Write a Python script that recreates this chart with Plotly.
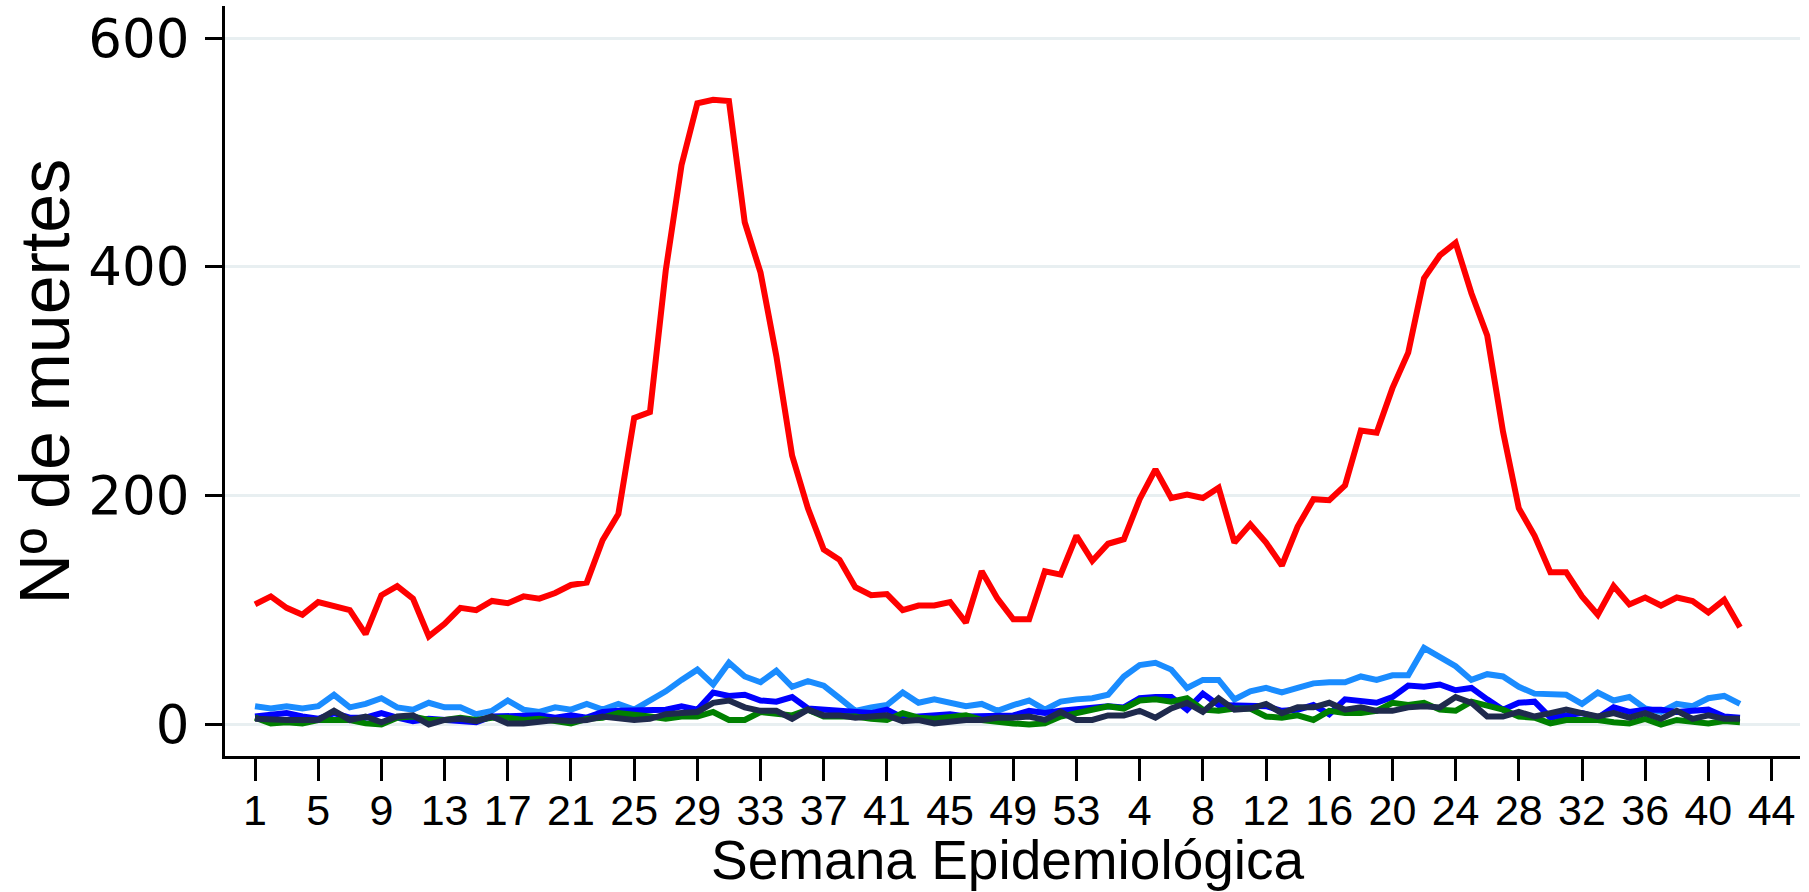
import plotly.graph_objects as go

# semanas epidemiológicas: 1-53 (2020) y 1-42 (2021), índice continuo
semanas = list(range(1, 96))

muertes_rojo = [105, 112, 102, 96, 107, 104, 100, 79, 113, 121,
                110, 77, 88, 102, 100, 108, 106, 112, 110, 115,
                122, 124, 161, 184, 268, 273, 397, 489, 543, 546,
                545, 439, 395, 322, 235, 189, 153, 144, 120, 113,
                114, 100, 104, 104, 107, 89, 134, 110, 92, 92,
                134, 131, 165, 143, 158, 162, 197, 223, 198, 201,
                198, 207, 159, 175, 159, 139, 173, 197, 196, 209,
                257, 255, 294, 325, 390, 410, 421, 377, 340, 256,
                189, 165, 133, 133, 112, 96, 121, 105, 111, 104,
                111, 108, 98, 109, 85]

muertes_celeste = [16, 14, 16, 14, 16, 26, 15, 18, 23, 15,
                   13, 19, 15, 15, 9, 12, 21, 13, 11, 15,
                   13, 18, 13, 18, 13, 21, 29, 39, 48, 35,
                   54, 42, 37, 47, 33, 38, 34, 23, 12, 15,
                   17, 28, 19, 22, 19, 16, 18, 12, 17, 21,
                   13, 20, 22, 23, 26, 42, 52, 54, 48, 32,
                   39, 39, 22, 29, 32, 28, 32, 36, 37, 37,
                   42, 39, 43, 43, 67, 59, 51, 39, 44, 42,
                   33, 27, 27, 26, 18, 28, 21, 24, 14, 11,
                   18, 16, 23, 25, 18]

muertes_azul = [7, 9, 10, 7, 5, 10, 6, 6, 10, 6,
                3, 5, 4, 3, 2, 7, 7, 7, 8, 6,
                8, 6, 11, 12, 12, 12, 13, 16, 13, 28,
                25, 26, 21, 20, 24, 14, 13, 11, 10, 10,
                13, 6, 7, 8, 9, 7, 7, 7, 8, 12,
                10, 12, 13, 14, 16, 15, 23, 24, 24, 13,
                27, 17, 17, 17, 16, 12, 13, 17, 9, 22,
                21, 19, 24, 34, 33, 35, 30, 32, 22, 13,
                19, 20, 6, 8, 10, 6, 15, 11, 13, 13,
                11, 12, 13, 7, 6]

muertes_verde = [6, 1, 2, 1, 4, 4, 4, 1, 0, 6,
                 7, 4, 4, 6, 4, 6, 6, 4, 5, 3,
                 1, 5, 6, 10, 9, 7, 5, 7, 7, 11,
                 4, 4, 11, 10, 8, 13, 7, 7, 7, 5,
                 4, 10, 6, 5, 6, 8, 4, 2, 1, 0,
                 1, 7, 10, 13, 16, 14, 21, 22, 20, 23,
                 13, 12, 14, 14, 7, 6, 8, 4, 12, 10,
                 10, 12, 19, 17, 19, 13, 12, 20, 16, 13,
                 7, 6, 1, 4, 4, 4, 2, 1, 5, 0,
                 4, 2, 1, 3, 2]

muertes_marino = [5, 4, 4, 4, 4, 12, 4, 7, 2, 7,
                  8, 0, 4, 5, 3, 7, 1, 1, 3, 4,
                  3, 4, 7, 5, 4, 5, 9, 10, 11, 19,
                  21, 15, 12, 12, 5, 13, 8, 8, 6, 7,
                  8, 3, 4, 1, 3, 4, 4, 6, 6, 7,
                  4, 11, 4, 4, 8, 8, 12, 6, 14, 19,
                  11, 23, 13, 14, 18, 10, 15, 15, 19, 13,
                  15, 12, 12, 15, 16, 15, 24, 19, 7, 7,
                  11, 7, 10, 13, 10, 7, 10, 6, 10, 5,
                  12, 5, 8, 5, 5]

tick_pos = list(range(1, 98, 4))
tick_txt = [str(t) if t <= 53 else str(t - 53) for t in tick_pos]

series = [
    (muertes_celeste, "#1a8cff"),
    (muertes_azul, "#0000ff"),
    (muertes_verde, "#008000"),
    (muertes_marino, "#1f2a4d"),
    (muertes_rojo, "#ff0000"),
]

fig = go.Figure()
for vals, color in series:
    fig.add_trace(go.Scatter(x=semanas, y=vals, mode="lines",
                             line=dict(color=color, width=6),
                             showlegend=False))

fig.update_layout(
    width=1809, height=892,
    paper_bgcolor="white", plot_bgcolor="white",
    margin=dict(l=225, r=9, t=6, b=136),
    font=dict(family="Liberation Sans, Arial", color="black"),
)

fig.update_xaxes(
    range=[-0.9, 98.8], automargin=False,
    tickmode="array", tickvals=tick_pos, ticktext=tick_txt, tickangle=0,
    tickfont=dict(size=43), ticklabelstandoff=-8,
    ticks="outside", ticklen=22, tickwidth=2.5, tickcolor="black",
    showline=True, linecolor="black", linewidth=3,
    showgrid=False, zeroline=False,
)

fig.update_yaxes(
    range=[-27.5, 628], automargin=False,
    tickmode="array", tickvals=[0, 200, 400, 600],
    tickfont=dict(family="DejaVu Sans", size=53), ticklabelstandoff=5,
    ticklabeloverflow="allow",
    ticks="outside", ticklen=17, tickwidth=2.5, tickcolor="black",
    showline=True, linecolor="black", linewidth=3,
    showgrid=True, gridcolor="#e8eff1", gridwidth=3, zeroline=False,
)

# títulos de ejes como anotaciones
fig.add_annotation(text="Semana Epidemiológica", xref="paper", yref="paper",
                   x=0.497, y=-0.139, xanchor="center", yanchor="middle",
                   showarrow=False, font=dict(size=55))
fig.add_annotation(text="Nº de muertes", xref="paper", yref="paper",
                   x=-0.114, y=0.5, xanchor="center", yanchor="middle",
                   textangle=-90, showarrow=False, font=dict(size=70))

# sin el margen de 8px del body, la figura ocupa justo la ventana
fig.write_html("out.html", config={"displayModeBar": False},
               post_script="document.body.style.margin = '0';")
